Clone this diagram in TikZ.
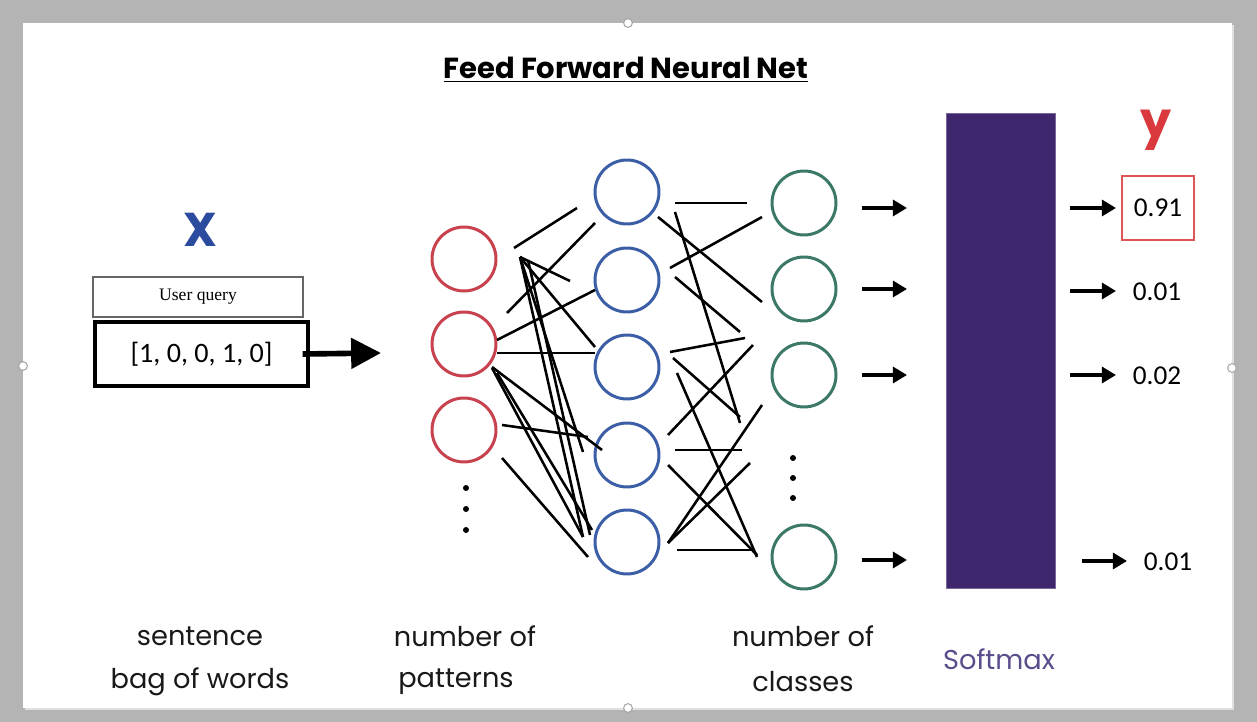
\documentclass[tikz,border=0pt]{standalone}
\usepackage{fontspec}
\usetikzlibrary{arrows.meta}
\newfontfamily\popfont{Poppins}
\newfontfamily\carlfont{Carlito}
\newfontfamily\queryfont{Liberation Serif}
\definecolor{framegray}{HTML}{B4B4B4}
\definecolor{inred}{HTML}{C8424E}
\definecolor{hidblue}{HTML}{3B5EA6}
\definecolor{outgreen}{HTML}{3B7868}
\definecolor{softpurple}{HTML}{3F276E}
\definecolor{labpurple}{HTML}{5B4C8C}
\definecolor{xblue}{HTML}{2B4C9E}
\definecolor{yred}{HTML}{D9383C}
\begin{document}
\begin{tikzpicture}[x=0.02cm,y=-0.02cm,
  neuron/.style={circle,draw,line width=1.7pt,minimum size=1.28cm,inner sep=0pt},
  wire/.style={line width=1.45pt,black},
  smallarrow/.style={line width=2pt,-{Triangle[length=8pt,width=9pt]}},
  caption/.style={font=\popfont\fontsize{15.5}{18}\selectfont,text=black!90,inner sep=0pt},
  value/.style={font=\carlfont\fontsize{15.5}{18}\selectfont,inner sep=0pt},
  dotmark/.style={circle,fill,inner sep=0pt,minimum size=3.4pt},
  handle/.style={circle,draw=black!35,fill=white,line width=0.6pt,minimum size=5pt,inner sep=0pt}
]
\useasboundingbox (0,0) rectangle (1257,722);
% frame and slide
\fill[framegray] (0,0) rectangle (1257,722);
\fill[black!12] (25,25) rectangle (1234,710);
\fill[white] (23,23) rectangle (1232,708);
\node[handle] (hT) at (628,23) {};
\node[handle] (hB) at (628,708) {};
\node[handle] (hL) at (23,366) {};
\node[handle] (hR) at (1232,368) {};

% title
\node[font=\popfont\bfseries\fontsize{16.5}{19}\selectfont] (title) at (626,70) {\underline{Feed Forward Neural Net}};

% input side
\node[font=\popfont\bfseries\fontsize{27}{30}\selectfont,text=xblue] (xlab) at (200,230) {X};
\node[draw=black!60,line width=0.6pt,minimum width=4.2cm,minimum height=0.8cm,inner sep=0pt,
      font=\queryfont\fontsize{10}{12}\selectfont] (query) at (198,297) {User query};
\node[draw,line width=1.8pt,minimum width=4.26cm,minimum height=1.28cm,inner sep=0pt,
      font=\carlfont\fontsize{16}{19}\selectfont] (vec) at (201.5,354) {[1, 0, 0, 1, 0]};
\coordinate (inEnd) at (381,353);
\draw[line width=3.2pt,-{Triangle[length=17pt,width=17pt]}] ([xshift=-4pt]vec.east) -- (inEnd);

% input layer
\foreach \i/\y in {1/259,2/344,3/430}
  \node[neuron,draw=inred] (p\i) at (464,\y) {};
\foreach \y [count=\k] in {488,509,530}
  \node[dotmark] (pd\k) at (466,\y) {};

% hidden layer
\foreach \i/\y in {1/192,2/280,3/367,4/455,5/542}
  \node[neuron,draw=hidblue] (h\i) at (627,\y) {};

% output layer
\foreach \i/\y in {1/203,2/289,3/375,4/557}
  \node[neuron,draw=outgreen] (c\i) at (804,\y) {};
\foreach \y [count=\k] in {458,478,498}
  \node[dotmark] (cd\k) at (793,\y) {};

% loosely sketched weights between input and hidden layer
\foreach \a/\b/\c/\d in {
  514/248/577/208, 595/223/507/313, 520/257/570/281, 520/257/595/347,
  520/257/583/452, 520/257/583/537, 528/260/590/535, 497/340/595/290,
  497/353/595/353, 492/367/602/450, 492/368/583/537, 497/373/592/530,
  502/425/588/437, 502/458/588/557}
  \draw[wire] (\a,\b) -- (\c,\d);

% loosely sketched weights between hidden and output layer
\foreach \a/\b/\c/\d in {
  675/203/747/203, 658/217/762/302, 670/268/762/217, 675/212/740/423,
  675/277/740/332, 670/352/745/338, 673/358/740/417, 668/435/753/345,
  677/373/757/557, 675/450/742/450, 668/465/757/555, 668/543/762/405,
  668/543/750/463, 677/550/755/550}
  \draw[wire] (\a,\b) -- (\c,\d);

% softmax block
\node[fill=softpurple,draw=softpurple!70!white,line width=0.5pt,minimum width=2.18cm,minimum height=9.5cm,inner sep=0pt] (softmax) at (1000.5,350.5) {};

% arrows into softmax
\foreach \i/\y in {1/208,2/289,3/375,4/560} {
  \coordinate (sa\i) at (862,\y);
  \coordinate (sb\i) at (907,\y);
  \draw[smallarrow] (sa\i) -- (sb\i);
}

% output probabilities
\node[font=\popfont\bfseries\fontsize{28}{30}\selectfont,text=yred] (ylab) at (1156,130) {y};
\node[value,draw=yred!85,line width=0.9pt,minimum width=1.44cm,minimum height=1.28cm] (o1) at (1158,208) {0.91};
\node[value] (o2) at (1157,292) {0.01};
\node[value] (o3) at (1157,376) {0.02};
\node[value] (o4) at (1168,562) {0.01};
\foreach \i/\x/\y/\e in {1/1070/208/1116,2/1070/291/1116,3/1070/375/1116,4/1082/561/1127} {
  \coordinate (ta\i) at (\x,\y);
  \coordinate (tb\i) at (\e,\y);
  \draw[smallarrow] (ta\i) -- (tb\i);
}

% captions
\node[caption] (cap1a) at (200,636) {sentence};
\node[caption] (cap1b) at (200,682) {bag of words};
\node[caption] (cap2a) at (465,636) {number of};
\node[caption] (cap2b) at (456,682) {patterns};
\node[caption] (cap3a) at (803,636) {number of};
\node[caption] (cap3b) at (803,682) {classes};
\node[caption,text=labpurple] (cap4) at (999,659) {Softmax};
\end{tikzpicture}
\end{document}
